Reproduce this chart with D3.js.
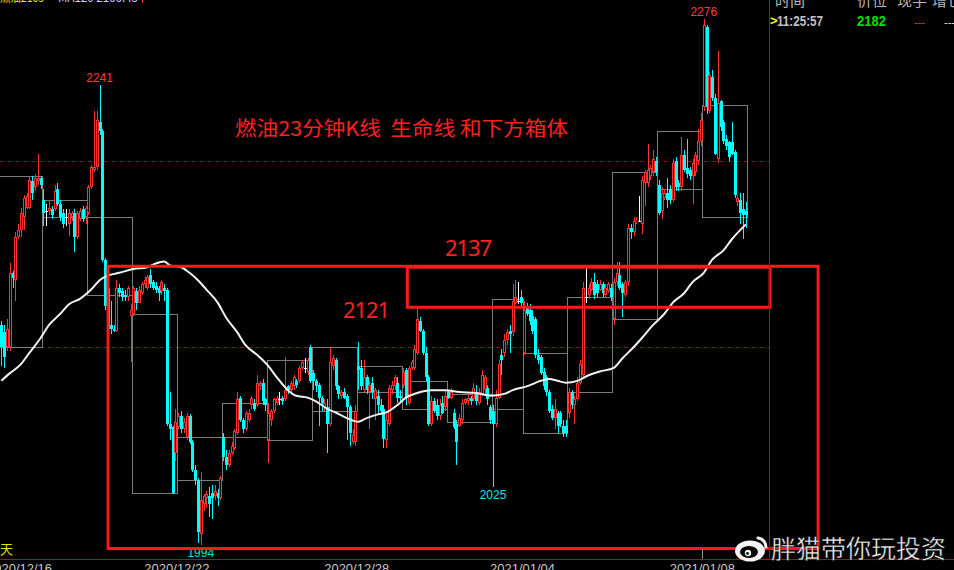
<!DOCTYPE html>
<html>
<head>
<meta charset="utf-8">
<script src="https://cdn.jsdelivr.net/npm/d3@7"></script>
<style>
  html, body { margin: 0; padding: 0; background: #000; overflow: hidden; }
  svg { display: block; }
</style>
</head>
<body>
<script>

// 23-minute candles, index 0..265
var opens = [
  2112,2108,2100,2100,2140,2136,2159,2163,2170,2175,
  2175,2189,2186,2189,2191,2179,2173,2173,2174,2174,
  2185,2177,2172,2170,2166,2170,2172,2159,2169,2174,
  2170,2172,2186,2195,2197,2221,2216,2147,2132,2112,
  2110,2109,2132,2130,2128,2127,2117,2118,2130,2124,
  2129,2134,2132,2139,2135,2133,2132,2130,2132,2131,
  2059,2057,2043,2057,2063,2056,2052,2063,2049,2034,
  2029,2000,2016,2019,2020,2022,2020,2022,2019,2052,
  2041,2037,2043,2046,2054,2073,2061,2056,2061,2069,
  2070,2069,2079,2081,2072,2050,2061,2066,2070,2072,
  2073,2072,2079,2077,2079,2082,2082,2089,2089,2087,
  2100,2086,2082,2080,2073,2068,2068,2059,2090,2093,
  2079,2074,2076,2074,2068,2049,2049,2090,2089,2077,
  2084,2076,2081,2072,2074,2069,2067,2050,2059,2077,
  2079,2081,2074,2080,2088,2070,2089,2089,2097,2114,
  2109,2097,2084,2059,2071,2069,2063,2070,2068,2076,
  2073,2065,2059,2058,2061,2070,2071,2073,2072,2076,
  2070,2075,2077,2078,2068,2066,2059,2073,2096,2097,
  2104,2109,2108,2124,2125,2127,2097,2121,2120,2117,
  2115,2096,2095,2087,2084,2076,2067,2062,2065,2065,
  2058,2058,2065,2076,2069,2072,2081,2085,2127,2128,
  2131,2135,2134,2131,2134,2128,2130,2132,2115,2135,
  2139,2134,2128,2135,2164,2162,2167,2168,2166,2188,
  2188,2192,2194,2200,2187,2173,2180,2183,2185,2179,
  2200,2188,2186,2203,2196,2195,2192,2194,2200,2211,
  2229,2272,2227,2245,2234,2201,2232,2221,2212,2210,
  2210,2205,2178,2179,2174,2173
];
var highs = [
  2114,2112,2115,2145,2141,2162,2166,2175,2182,2183,
  2192,2192,2193,2204,2192,2185,2177,2179,2176,2187,
  2188,2179,2174,2174,2174,2173,2174,2173,2175,2176,
  2176,2187,2198,2227,2227,2241,2217,2148,2133,2125,
  2112,2136,2134,2132,2131,2133,2123,2133,2132,2133,
  2135,2138,2139,2142,2136,2135,2133,2136,2134,2132,
  2076,2058,2067,2065,2066,2062,2065,2064,2050,2037,
  2030,2033,2021,2023,2025,2026,2026,2024,2031,2054,
  2045,2045,2049,2056,2076,2074,2062,2066,2067,2074,
  2072,2085,2082,2083,2073,2070,2067,2073,2074,2076,
  2074,2095,2080,2082,2085,2083,2090,2093,2094,2094,
  2101,2088,2083,2081,2074,2072,2072,2100,2096,2094,
  2080,2077,2078,2075,2069,2056,2069,2103,2093,2093,
  2085,2082,2084,2078,2077,2072,2069,2064,2080,2082,
  2085,2084,2077,2089,2089,2090,2093,2101,2121,2116,
  2110,2100,2085,2074,2073,2072,2072,2074,2077,2077,
  2078,2067,2061,2064,2072,2073,2076,2074,2081,2080,
  2078,2088,2085,2080,2069,2069,2077,2093,2099,2107,
  2110,2112,2134,2136,2135,2131,2125,2124,2123,2120,
  2116,2099,2096,2089,2085,2077,2069,2072,2066,2066,
  2061,2061,2078,2077,2074,2084,2093,2135,2143,2134,
  2137,2140,2136,2136,2135,2134,2135,2134,2137,2146,
  2146,2135,2136,2166,2166,2170,2170,2181,2192,2195,
  2209,2198,2206,2202,2190,2186,2185,2191,2187,2201,
  2202,2190,2213,2206,2212,2197,2201,2205,2217,2226,
  2276,2273,2248,2249,2236,2259,2233,2222,2214,2211,
  2221,2206,2182,2183,2183,2178
];
var lows = [
  2090,2089,2098,2098,2132,2125,2158,2159,2163,2174,
  2174,2179,2184,2187,2185,2165,2165,2171,2169,2173,
  2176,2168,2164,2165,2160,2168,2151,2158,2168,2167,
  2166,2171,2185,2194,2195,2214,2146,2120,2104,2107,
  2108,2108,2127,2125,2125,2125,2092,2117,2120,2124,
  2128,2132,2131,2132,2131,2129,2125,2128,2125,2058,
  2050,2021,2039,2056,2054,2054,2050,2048,2033,2026,
  1995,1994,2012,2014,2009,2008,2018,2015,2018,2039,
  2034,2036,2042,2045,2053,2060,2054,2055,2060,2067,
  2066,2068,2077,2069,2066,2038,2058,2065,2069,2069,
  2069,2071,2075,2076,2077,2078,2081,2088,2086,2085,
  2081,2077,2076,2058,2066,2066,2043,2058,2088,2077,
  2072,2072,2072,2050,2047,2048,2047,2077,2077,2076,
  2075,2056,2072,2061,2065,2065,2046,2046,2058,2075,
  2077,2070,2071,2078,2069,2069,2088,2088,2096,2108,
  2096,2082,2058,2058,2065,2061,2061,2064,2066,2072,
  2072,2056,2037,2057,2059,2069,2069,2069,2071,2069,
  2069,2074,2075,2069,2059,2025,2057,2072,2085,2095,
  2101,2097,2106,2123,2123,2121,2096,2117,2112,2107,
  2094,2091,2085,2077,2074,2065,2061,2056,2054,2057,
  2052,2052,2062,2067,2059,2071,2080,2084,2124,2126,
  2130,2126,2127,2130,2127,2127,2129,2125,2112,2133,
  2131,2116,2127,2133,2158,2160,2166,2167,2161,2176,
  2186,2190,2192,2192,2171,2169,2179,2175,2177,2178,
  2184,2184,2184,2194,2191,2190,2177,2192,2198,2208,
  2227,2225,2226,2232,2203,2199,2216,2209,2206,2200,
  2203,2180,2176,2166,2158,2164
];
var closes = [
  2100,2095,2110,2140,2137,2159,2163,2172,2180,2181,
  2190,2183,2191,2191,2187,2172,2173,2175,2171,2184,
  2177,2170,2166,2170,2172,2172,2159,2172,2173,2169,
  2175,2186,2197,2197,2222,2216,2147,2122,2110,2110,
  2109,2132,2129,2127,2127,2132,2120,2132,2124,2131,
  2134,2136,2138,2134,2132,2131,2129,2135,2130,2059,
  2056,2022,2060,2063,2056,2060,2063,2049,2034,2029,
  2001,2018,2020,2021,2016,2019,2023,2019,2030,2041,
  2037,2043,2047,2055,2072,2061,2056,2065,2065,2073,
  2067,2081,2081,2071,2069,2065,2066,2072,2073,2072,
  2071,2077,2077,2081,2084,2080,2089,2092,2089,2093,
  2082,2082,2079,2073,2070,2070,2059,2092,2094,2079,
  2075,2076,2073,2068,2054,2053,2066,2088,2079,2084,
  2077,2080,2076,2077,2069,2066,2051,2061,2078,2080,
  2084,2073,2073,2087,2073,2089,2092,2099,2115,2109,
  2097,2084,2059,2071,2066,2063,2069,2065,2074,2073,
  2076,2057,2049,2062,2070,2072,2073,2071,2078,2071,
  2076,2085,2084,2072,2061,2059,2073,2091,2093,2104,
  2108,2107,2125,2127,2125,2124,2120,2118,2114,2109,
  2096,2093,2086,2079,2076,2066,2062,2067,2058,2059,
  2054,2054,2076,2069,2072,2081,2091,2132,2127,2132,
  2135,2128,2129,2134,2129,2132,2134,2127,2135,2140,
  2132,2129,2135,2164,2162,2168,2168,2168,2190,2194,
  2195,2196,2201,2194,2172,2183,2183,2179,2179,2199,
  2186,2186,2203,2195,2193,2192,2199,2203,2211,2222,
  2273,2229,2246,2234,2204,2231,2218,2211,2208,2202,
  2204,2182,2180,2172,2171,2171
];

// life line (moving average), read at these candle indexes
var maIdx = [0,3,7,10,14,17,21,24,28,32,35,39,42,47,52,55,58,60,64,67,
  70,73,77,80,84,87,91,95,98,102,105,109,112,116,119,123,127,130,134,137,
  141,144,148,153,158,163,169,174,179,182,187,192,195,198,201,205,209,213,218,221,
  225,228,232,236,239,243,246,250,253,257,260,265];
var maVal = [2082,2086,2091,2097,2105,2112,2118,2123,2126,2131,2136,2139,2140,2142,2143,2145,2146,2144,2143,2140,
  2136,2131,2124,2116,2108,2101,2096,2090,2084,2077,2074,2073,2071,2067,2065,2062,2060,2062,2064,2065,
  2069,2073,2075.5,2077,2077,2076,2075.5,2074,2075,2077,2079,2082,2083,2082,2081,2082,2085,2087,2089,2094,
  2100,2105,2112,2118,2124,2129,2135,2140,2147,2152,2158,2166];

// session boxes (grey), in candle index units and prices
var boxFrom = [-1.5,14.5,30.5,46.5,62.5,78.5,94.5,110.5,126.5,142.5,158.5,174.5,185.5,201.5,217.5,233.5,249.5];
var boxTo   = [14.5,30.5,46.5,62.5,78.5,94.5,110.5,126.5,142.5,158.5,174.5,185.5,201.5,217.5,233.5,249.5,265.5];
var boxHi   = [2192,2179,2170,2118,2052,2070,2093,2100,2090,2082,2075,2126,2097,2127,2194,2216,2230];
var boxLo   = [2100,2170,2128,2022,2029,2052,2050,2066,2076,2067,2060,2067,2054,2076,2115,2185,2170];

// hand drawn red zones
var zoneFrom = [38, 144.5];
var zoneTo   = [290.7, 273.6];
var zoneHi   = [2143.5, 2143];
var zoneLo   = [1992, 2121.5];

var gridLevels = [2100, 2200];

var dateLabels = ["2020/12/16", "2020/12/22", "2020/12/28", "2021/01/04", "2021/01/08"];
var dateIdx    = [6.5, 62.5, 126.5, 185.5, 249.5];

// extreme marks
var markIdx  = [35, 250, 71, 175];
var markText = ["2241", "2276", "1994", "2025"];
var markHigh = [true, true, false, false];

var W = 954, H = 570;
var UP = "#ff3232", DOWN = "#00ffff", DOJI = "#ffffff";

var svg = d3.select("body").append("svg").attr("width", W).attr("height", H);
svg.append("rect").attr("width", W).attr("height", H).attr("fill", "#000");

var x = d3.scaleLinear().domain([0, opens.length - 1]).range([1.27, 745.9]);
var y = d3.scaleLinear().domain([2100, 2200]).range([347.3, 161]);

// dashed price grid
svg.selectAll("line.grid").data(gridLevels).join("line")
  .attr("x1", 0).attr("x2", 769)
  .attr("y1", function(d) { return Math.round(y(d)) + 0.5; })
  .attr("y2", function(d) { return Math.round(y(d)) + 0.5; })
  .attr("stroke", "#8a1515").attr("stroke-dasharray", "4,4");

// session boxes
svg.selectAll("rect.box").data(d3.range(boxFrom.length)).join("rect")
  .attr("x", function(i) { return Math.round(x(boxFrom[i])) + 0.5; })
  .attr("y", function(i) { return Math.round(y(boxHi[i])) + 0.5; })
  .attr("width", function(i) { return Math.round(x(boxTo[i])) - Math.round(x(boxFrom[i])); })
  .attr("height", function(i) { return Math.round(y(boxLo[i])) - Math.round(y(boxHi[i])); })
  .attr("fill", "none").attr("stroke", "#7c7c7c").attr("shape-rendering", "crispEdges");

// candles
var cg = svg.append("g").attr("shape-rendering", "crispEdges");
d3.range(opens.length).forEach(function(i) {
  var o = opens[i], c = closes[i];
  var h = Math.max(highs[i], o, c), l = Math.min(lows[i], o, c);
  var cx = Math.round(x(i));
  var top = Math.round(y(Math.max(o, c))), bot = Math.round(y(Math.min(o, c)));
  var yh = Math.round(y(h)), yl = Math.round(y(l));
  if (c > o) {
    cg.append("line").attr("x1", cx + 0.5).attr("x2", cx + 0.5)
      .attr("y1", yh).attr("y2", top).attr("stroke", UP);
    cg.append("line").attr("x1", cx + 0.5).attr("x2", cx + 0.5)
      .attr("y1", bot).attr("y2", yl).attr("stroke", UP);
    cg.append("rect").attr("x", cx - 0.5).attr("y", top + 0.5)
      .attr("width", 2).attr("height", Math.max(bot - top - 1, 0))
      .attr("fill", "#000").attr("stroke", UP);
  } else if (c < o) {
    cg.append("line").attr("x1", cx + 0.5).attr("x2", cx + 0.5)
      .attr("y1", yh).attr("y2", yl).attr("stroke", DOWN);
    cg.append("rect").attr("x", cx - 1).attr("y", top)
      .attr("width", 3).attr("height", Math.max(bot - top, 1))
      .attr("fill", DOWN);
  } else {
    cg.append("line").attr("x1", cx + 0.5).attr("x2", cx + 0.5)
      .attr("y1", yh).attr("y2", yl).attr("stroke", DOJI);
    cg.append("line").attr("x1", cx - 1).attr("x2", cx + 2)
      .attr("y1", top + 0.5).attr("y2", top + 0.5).attr("stroke", DOJI);
  }
});

// life line
var ma = d3.line()
  .x(function(d, i) { return x(maIdx[i]); })
  .y(function(d) { return y(d); })
  .curve(d3.curveMonotoneX);
svg.append("path").datum(maVal).attr("d", ma)
  .attr("fill", "none").attr("stroke", "#f2f2f2").attr("stroke-width", 2);

// high / low marks
svg.selectAll("text.mark").data(markIdx).join("text")
  .attr("x", function(d) { return x(d); })
  .attr("y", function(d, i) { return markHigh[i] ? y(highs[d]) - 3 : y(lows[d]) + 12; })
  .attr("text-anchor", "middle")
  .attr("font-family", "Liberation Sans, Arial, sans-serif").attr("font-size", 12)
  .attr("fill", function(d, i) { return markHigh[i] ? "#ff3c3c" : "#00e8e8"; })
  .text(function(d, i) { return markText[i]; });

// red zones
svg.selectAll("rect.zone").data(d3.range(zoneFrom.length)).join("rect")
  .attr("x", function(i) { return x(zoneFrom[i]); })
  .attr("y", function(i) { return y(zoneHi[i]); })
  .attr("width", function(i) { return x(zoneTo[i]) - x(zoneFrom[i]); })
  .attr("height", function(i) { return y(zoneLo[i]) - y(zoneHi[i]); })
  .attr("fill", "none").attr("stroke", "#ff1a1a").attr("stroke-width", 3);

// annotation texts
var red = "#ff2020";
svg.append("text").attr("x", 235).attr("y", 136)
  .attr("font-family", "Noto Sans CJK SC, sans-serif").attr("font-size", 20)
  .attr("fill", red).attr("textLength", 333).attr("lengthAdjust", "spacingAndGlyphs")
  .attr("xml:space", "preserve")
  .text("燃油23分钟K线  生命线 和下方箱体");
svg.append("text").attr("x", 445).attr("y", 256)
  .attr("font-family", "Noto Sans, sans-serif").attr("font-size", 22)
  .attr("fill", red).attr("textLength", 47).text("2137");
svg.append("text").attr("x", 343).attr("y", 318)
  .attr("font-family", "Noto Sans, sans-serif").attr("font-size", 22)
  .attr("fill", red).attr("textLength", 47).text("2121");

// frame lines
svg.append("line").attr("x1", 0).attr("x2", W).attr("y1", 559.5).attr("y2", 559.5)
  .attr("stroke", "#b01010");
svg.append("line").attr("x1", 769.5).attr("x2", 769.5).attr("y1", 0).attr("y2", 559)
  .attr("stroke", "#b01010");
svg.append("line").attr("x1", Math.round(x(249.5)) + 0.5).attr("x2", Math.round(x(249.5)) + 0.5)
  .attr("y1", 549).attr("y2", 559).attr("stroke", "#909090");

// date axis (the window cuts the lower half of these labels, as in the source)
svg.selectAll("text.date").data(dateLabels).join("text")
  .attr("x", function(d, i) { return x(dateIdx[i]); })
  .attr("y", 573)
  .attr("text-anchor", "middle")
  .attr("font-family", "Liberation Sans, Arial, sans-serif").attr("font-size", 13)
  .attr("fill", "#c8c8c8").text(function(d) { return d; });

svg.append("text").attr("x", 0).attr("y", 554)
  .attr("font-family", "Noto Sans CJK SC, sans-serif").attr("font-size", 13)
  .attr("fill", "#e6e600").text("天");

// top-left title line (cut off by the window)
svg.append("text").attr("x", 0).attr("y", 2)
  .attr("font-family", "Noto Sans CJK SC, sans-serif").attr("font-size", 12)
  .attr("fill", "#e6e600").attr("textLength", 44).attr("lengthAdjust", "spacingAndGlyphs")
  .text("燃油2105");
svg.append("text").attr("x", 58).attr("y", 2)
  .attr("font-family", "Noto Sans CJK SC, sans-serif").attr("font-size", 12)
  .attr("fill", "#d0d0ff").attr("textLength", 80).attr("lengthAdjust", "spacingAndGlyphs")
  .text("MA120 2166.43");
svg.append("line").attr("x1", 142.5).attr("x2", 142.5).attr("y1", 0).attr("y2", 3)
  .attr("stroke", "#ff3030");

// right tick panel
var head = ["时间", "价位", "现手", "增仓"];
var headX = [775, 857, 897, 932];
svg.selectAll("text.head").data(head).join("text")
  .attr("x", function(d, i) { return headX[i]; }).attr("y", 6)
  .attr("font-family", "Noto Sans CJK SC, sans-serif").attr("font-size", 15)
  .attr("fill", "#b8b8b8").text(function(d) { return d; });
svg.append("text").attr("x", 770).attr("y", 25)
  .attr("font-family", "Liberation Sans, Arial, sans-serif").attr("font-size", 13)
  .attr("font-weight", "bold").attr("fill", "#ffff00").text(">");
svg.append("text").attr("x", 777).attr("y", 26)
  .attr("font-family", "Liberation Sans, Arial, sans-serif").attr("font-size", 14)
  .attr("font-weight", "bold").attr("fill", "#c0c0c0")
  .attr("textLength", 46).attr("lengthAdjust", "spacingAndGlyphs").text("11:25:57");
svg.append("text").attr("x", 857).attr("y", 26)
  .attr("font-family", "Liberation Sans, Arial, sans-serif").attr("font-size", 14)
  .attr("font-weight", "bold").attr("fill", "#00e000")
  .attr("textLength", 29).attr("lengthAdjust", "spacingAndGlyphs").text("2182");
svg.append("text").attr("x", 914).attr("y", 26)
  .attr("font-family", "Liberation Sans, Arial, sans-serif").attr("font-size", 11)
  .attr("fill", "#ff3030").text("---");
svg.append("text").attr("x", 944).attr("y", 26)
  .attr("font-family", "Liberation Sans, Arial, sans-serif").attr("font-size", 11)
  .attr("fill", "#ffff00").text("---");

// weibo watermark
var wb = svg.append("g").attr("transform", "translate(750,551)");
wb.append("ellipse").attr("rx", 15).attr("ry", 10.5).attr("fill", "#f4f4f4");
wb.append("ellipse").attr("cx", -1).attr("cy", 1).attr("rx", 9).attr("ry", 6).attr("fill", "#000");
wb.append("circle").attr("cx", -2).attr("cy", 2).attr("r", 3.2).attr("fill", "#f4f4f4");
wb.append("circle").attr("cx", -2.5).attr("cy", 2.5).attr("r", 1.4).attr("fill", "#000");
wb.append("path").attr("d", "M8,-13 A9,9 0 0 1 16,-4").attr("fill", "none")
  .attr("stroke", "#f4f4f4").attr("stroke-width", 3).attr("stroke-linecap", "round");
wb.append("path").attr("d", "M8,-7 A4,4 0 0 1 11,-4").attr("fill", "none")
  .attr("stroke", "#f4f4f4").attr("stroke-width", 2.5).attr("stroke-linecap", "round");
svg.append("text").attr("x", 771).attr("y", 558)
  .attr("font-family", "Noto Sans CJK SC, sans-serif").attr("font-size", 25)
  .attr("fill", "#f4f4f4").attr("stroke", "#000").attr("stroke-width", 0.4)
  .text("胖猫带你玩投资");

</script>
</body>
</html>
